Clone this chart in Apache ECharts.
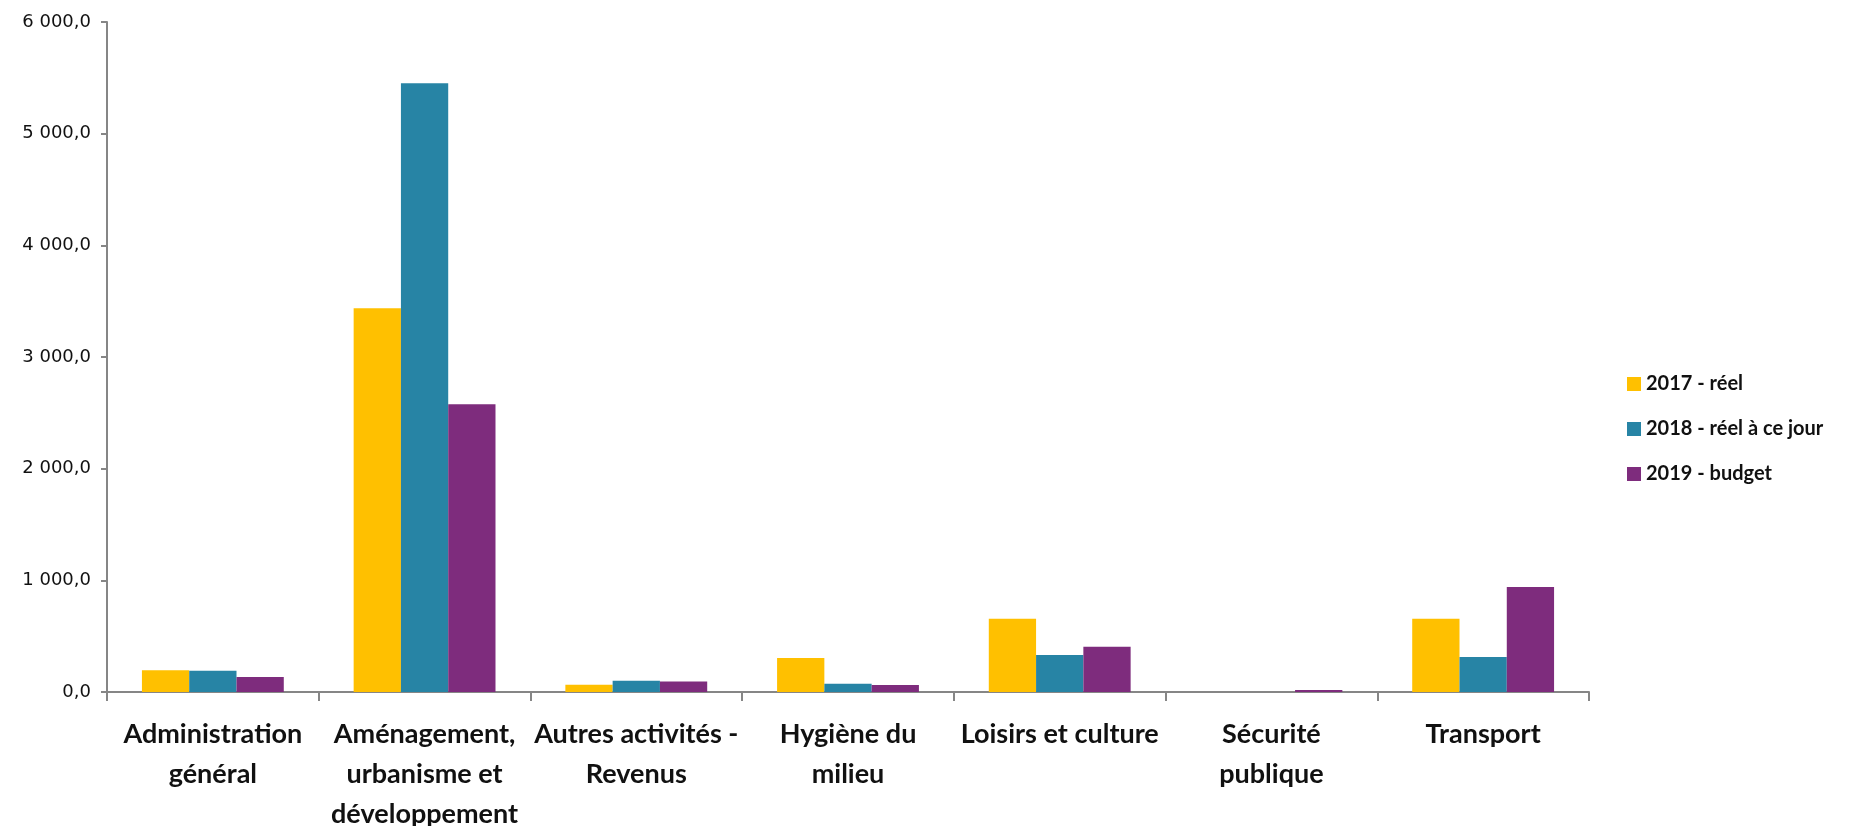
<!DOCTYPE html>
<html>
<head>
<meta charset="utf-8">
<script src="https://cdn.jsdelivr.net/npm/echarts@6/dist/echarts.min.js"></script>
<style>
html,body{margin:0;padding:0;background:#fff;}
#chart{width:1855px;height:826px;}
</style>
</head>
<body>
<div id="chart"></div>
<script>
const categories = [
  "Administration\ngénéral",
  "Aménagement,\nurbanisme et\ndéveloppement",
  "Autres activités -\nRevenus",
  "Hygiène du\nmilieu",
  "Loisirs et culture",
  "Sécurité\npublique",
  "Transport"
];
const seriesNames = ["2017 - réel", "2018 - réel à ce jour", "2019 - budget"];
const values2017 = [194, 3436, 66, 305, 657, 0, 657];
const values2018 = [190, 5451, 101, 75, 332, 0, 314];
const values2019 = [134, 2577, 93, 63, 406, 18, 941];
const colors = ["#FFC000", "#2784A5", "#7E2C7D"];

function fmt(v){
  const s = Math.round(v).toString().replace(/\B(?=(\d{3})+(?!\d))/g, " ");
  return s + ",0";
}

const chart = echarts.init(document.getElementById('chart'));
const font = "Lato, 'Open Sans', sans-serif";
chart.setOption({
  animation: false,
  textStyle: {fontFamily: font},
  grid: {left: 107, right: 266, top: 22, bottom: 134, containLabel: false, outerBoundsMode: 'none'},
  legend: {
    orient: 'vertical',
    left: 1622,
    top: 369,
    itemWidth: 14,
    itemHeight: 14,
    itemGap: 25,
    icon: 'rect',
    textStyle: {fontFamily: font, fontSize: 20, fontWeight: 'bold', color: '#111'},
    data: seriesNames
  },
  xAxis: {
    type: 'category',
    data: categories,
    axisLine: {lineStyle: {color: '#868686', width: 2}},
    axisTick: {show: true, length: 9, alignWithLabel: false, lineStyle: {color: '#868686', width: 2}},
    axisLabel: {
      interval: 0,
      margin: 22,
      fontSize: 27,
      fontWeight: 'bold',
      color: '#111',
      lineHeight: 40,
      fontFamily: font
    }
  },
  yAxis: {
    type: 'value',
    min: 0,
    max: 6000,
    interval: 1000,
    splitLine: {show: false},
    axisLine: {show: true, lineStyle: {color: '#868686', width: 2}},
    axisTick: {show: true, length: 6, lineStyle: {color: '#868686', width: 2}},
    axisLabel: {
      formatter: fmt,
      fontSize: 18,
      color: '#111',
      margin: 16,
      fontFamily: "'DejaVu Sans', sans-serif"
    }
  },
  series: [
    {name: seriesNames[0], type: 'bar', data: values2017, itemStyle: {color: colors[0]}, barGap: '0%', barCategoryGap: '33%'},
    {name: seriesNames[1], type: 'bar', data: values2018, itemStyle: {color: colors[1]}, barGap: '0%', barCategoryGap: '33%'},
    {name: seriesNames[2], type: 'bar', data: values2019, itemStyle: {color: colors[2]}, barGap: '0%', barCategoryGap: '33%'}
  ]
});
</script>
</body>
</html>
